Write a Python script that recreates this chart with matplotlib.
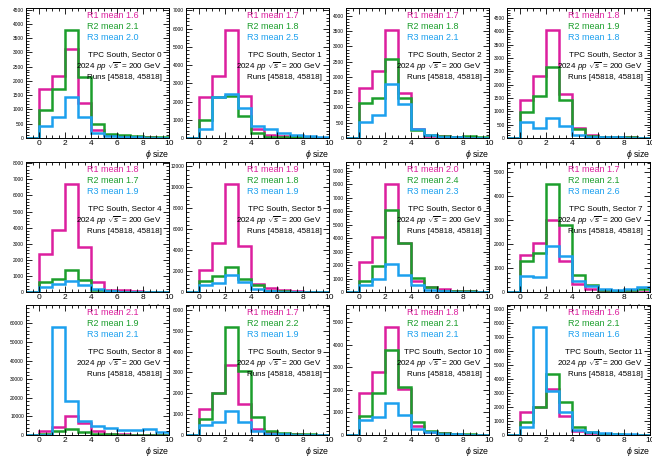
import numpy as np
import matplotlib
matplotlib.use("Agg")
import matplotlib.pyplot as plt
from matplotlib.ticker import MaxNLocator, AutoMinorLocator, MultipleLocator

plt.rcParams['font.family'] = ['Liberation Sans', 'DejaVu Sans']
plt.rcParams['mathtext.fontset'] = 'custom'
plt.rcParams['mathtext.rm'] = 'Liberation Sans'
plt.rcParams['mathtext.it'] = 'Liberation Sans:italic'

# bin edges of phi size
edges = np.arange(-1, 11, 1)

sectors = list(range(12))

# counts per bin [-1,0),[0,1),...,[9,10)
r1_counts = [
    [0, 1730, 2160, 3120, 1240, 270, 100, 60, 40, 20, 10],
    [0, 2250, 3380, 5940, 2320, 475, 180, 100, 50, 20, 10],
    [0, 1650, 2180, 3550, 1480, 300, 80, 50, 30, 30, 10],
    [0, 1430, 2310, 4060, 1650, 390, 100, 50, 30, 20, 10],
    [0, 2350, 3880, 6730, 2820, 610, 150, 100, 50, 30, 20],
    [0, 2125, 4720, 10340, 4400, 810, 340, 150, 80, 40, 20],
    [0, 2260, 4110, 8030, 3650, 780, 360, 200, 100, 50, 20],
    [0, 1540, 2040, 3030, 1310, 320, 140, 50, 30, 20, 10],
    [0, 2000, 4300, 10300, 6700, 2000, 500, 300, 200, 100, 50],
    [0, 1260, 1990, 3330, 1470, 290, 130, 60, 30, 20, 10],
    [0, 1850, 2790, 4810, 2050, 400, 150, 80, 40, 20, 10],
    [0, 1610, 1970, 3290, 1370, 290, 170, 60, 30, 20, 10],
]
r2_counts = [
    [0, 990, 1730, 3800, 2140, 500, 150, 90, 60, 50, 30],
    [0, 1000, 2250, 2290, 1190, 270, 55, 40, 30, 20, 10],
    [0, 1150, 1320, 2580, 1300, 250, 100, 50, 40, 80, 20],
    [0, 980, 1560, 2660, 1440, 340, 60, 40, 30, 20, 10],
    [0, 600, 820, 1390, 720, 100, 50, 30, 20, 10, 10],
    [0, 1030, 1500, 2375, 1220, 650, 100, 50, 30, 20, 10],
    [0, 800, 1920, 6060, 3650, 1050, 360, 100, 60, 40, 20],
    [0, 1310, 1650, 4530, 2800, 690, 280, 70, 50, 100, 120],
    [0, 700, 2100, 3400, 1800, 700, 300, 200, 150, 100, 50],
    [0, 790, 2020, 5190, 3090, 860, 210, 100, 60, 30, 20],
    [0, 850, 1880, 3790, 2120, 580, 180, 100, 60, 40, 20],
    [0, 940, 1970, 4370, 2330, 580, 190, 100, 60, 30, 20],
]
r3_counts = [
    [0, 410, 750, 1440, 750, 180, 60, 30, 20, 15, 10],
    [0, 510, 2250, 2430, 1650, 640, 510, 290, 180, 90, 55],
    [0, 530, 760, 1760, 1120, 300, 100, 30, 20, 15, 10],
    [0, 600, 380, 750, 440, 130, 50, 30, 20, 10, 10],
    [0, 300, 500, 670, 450, 200, 50, 30, 20, 10, 10],
    [0, 650, 870, 1650, 970, 300, 80, 40, 20, 10, 10],
    [0, 490, 980, 2070, 1270, 490, 170, 60, 30, 20, 10],
    [0, 680, 620, 1930, 1500, 480, 230, 140, 100, 140, 200],
    [0, 0, 58200, 18000, 7600, 4900, 4000, 2500, 2500, 3000, 1800],
    [0, 470, 630, 1150, 610, 210, 60, 30, 20, 10, 10],
    [0, 670, 800, 1400, 900, 280, 120, 50, 30, 20, 10],
    [0, 600, 7720, 3170, 1610, 340, 190, 170, 100, 50, 20],
]
r1_means = ["1.6", "1.7", "1.7", "1.8", "1.8", "1.9", "2.0", "1.7", "2.1", "1.7", "1.8", "1.6"]
r2_means = ["2.1", "1.8", "1.8", "1.9", "1.7", "1.8", "2.4", "2.1", "1.9", "2.2", "2.1", "2.1"]
r3_means = ["2.0", "2.5", "2.1", "1.8", "1.9", "1.9", "2.3", "2.6", "2.1", "1.9", "2.1", "1.6"]
run_text = "Runs [45818, 45818]"

c_r1 = "#dc1f9e"
c_r2 = "#1c9e2c"
c_r3 = "#1ca0ee"

W, H = 652, 458
fig = plt.figure(figsize=(W / 100, H / 100), dpi=100)

col_left = [26, 186, 346, 507]
row_bottom = [320, 166, 23]
pw, ph = 143, 130

for i in sectors:
    r, c = divmod(i, 4)
    ax = fig.add_axes([col_left[c] / W, row_bottom[r] / H, pw / W, ph / H])
    for vals, col in ((r1_counts[i], c_r1), (r2_counts[i], c_r2), (r3_counts[i], c_r3)):
        ax.stairs(vals, edges, color=col, linewidth=1.8, baseline=0)
    ymax = 1.2 * max(max(r1_counts[i]), max(r2_counts[i]), max(r3_counts[i]))
    ax.set_xlim(-1, 10)
    ax.set_ylim(0, ymax)
    ax.xaxis.set_major_locator(MultipleLocator(2))
    ax.xaxis.set_minor_locator(MultipleLocator(0.5))
    ax.yaxis.set_major_locator(MaxNLocator(nbins=10, steps=[1, 2, 5, 10]))
    ax.yaxis.set_minor_locator(AutoMinorLocator(5))
    ax.tick_params(axis='both', which='both', direction='in', top=True, right=True,
                   width=0.6)
    ax.tick_params(axis='x', which='major', length=4, labelsize=6, pad=1.5)
    ax.tick_params(axis='y', which='major', length=4, labelsize=3.5, pad=1.5)
    ax.tick_params(which='minor', length=2)
    for sp in ax.spines.values():
        sp.set_linewidth(0.7)
    ax.text(1.0, -0.13, r"$\phi$ size", transform=ax.transAxes, ha='right', va='center',
            fontsize=6.3)
    ax.text(0.43, 0.945, f"R1 mean {r1_means[i]}", transform=ax.transAxes, color=c_r1,
            fontsize=6.5, va='center', ha='left')
    ax.text(0.43, 0.86, f"R2 mean {r2_means[i]}", transform=ax.transAxes, color=c_r2,
            fontsize=6.5, va='center', ha='left')
    ax.text(0.43, 0.775, f"R3 mean {r3_means[i]}", transform=ax.transAxes, color=c_r3,
            fontsize=6.5, va='center', ha='left')
    ax.text(0.95, 0.645, f"TPC South, Sector {i}", transform=ax.transAxes,
            fontsize=5.8, va='center', ha='right')
    ax.text(0.95, 0.545, r"2024 $pp$ $\sqrt{s}$ = 200 GeV", transform=ax.transAxes,
            fontsize=5.8, va='center', ha='right')
    ax.text(0.95, 0.465, run_text, transform=ax.transAxes,
            fontsize=5.8, va='center', ha='right')

fig.savefig("out.png", dpi=100)
